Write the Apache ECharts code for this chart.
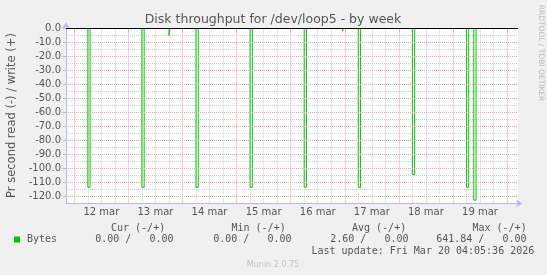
<!DOCTYPE html>
<html><head><meta charset="utf-8">
<script src="https://cdn.jsdelivr.net/npm/echarts@6/dist/echarts.min.js"></script>
<style>html,body{margin:0;padding:0;background:#f0f0f0}#c{width:547px;height:275px}</style>
</head><body><div id="c"></div>
<script>
// ---- data ----
const chartTitle = 'Disk throughput for /dev/loop5 - by week';
const yAxisName = 'Pr second read (-) / write (+)';
const dayLabels = ['12 mar','13 mar','14 mar','15 mar','16 mar','17 mar','18 mar','19 mar'];
const dayStarts = ['2026-03-12','2026-03-13','2026-03-14','2026-03-15','2026-03-16','2026-03-17','2026-03-18','2026-03-19','2026-03-20'];
const rangeStart = '2026-03-11T20:19:00Z';
const rangeEnd = '2026-03-20T04:52:00Z';
const spikeStarts = ['2026-03-12T06:00:00Z','2026-03-13T06:00:00Z','2026-03-13T18:00:00Z','2026-03-14T06:00:00Z','2026-03-15T06:00:00Z','2026-03-16T06:00:00Z','2026-03-16T23:00:00Z','2026-03-17T06:00:00Z','2026-03-18T06:00:00Z','2026-03-19T06:00:00Z','2026-03-19T09:15:00Z'];
const spikeEnds   = ['2026-03-12T07:00:00Z','2026-03-13T07:00:00Z','2026-03-13T18:30:00Z','2026-03-14T07:00:00Z','2026-03-15T07:00:00Z','2026-03-16T07:00:00Z','2026-03-16T23:30:00Z','2026-03-17T07:00:00Z','2026-03-18T07:00:00Z','2026-03-19T07:00:00Z','2026-03-19T10:15:00Z'];
const spikeValues = [-113.4,-113.4,-5.0,-113.4,-113.4,-113.4,-1.6,-113.4,-104.3,-113.4,-122.6];
const zeroRule = 0;
const yMajorTicks = [-120,-110,-100,-90,-80,-70,-60,-50,-40,-30,-20,-10,0];
const yMinorTicks = [-125,-115,-105,-95,-85,-75,-65,-55,-45,-35,-25,-15,-5];
const legendHeaders = ['Cur (-/+)','Min (-/+)','Avg (-/+)','Max (-/+)'];
const legendValues = ['0.00 /   0.00','0.00 /   0.00','2.60 /   0.00','641.84 /   0.00'];
const seriesName = 'Bytes';
const lastUpdate = 'Last update: Fri Mar 20 04:05:36 2026';
const muninVersion = 'Munin 2.0.75';
const sideText = 'RRDTOOL / TOBI OETIKER';

// ---- build ----
const t = s => Date.parse(s.length === 10 ? s + 'T00:00:00Z' : s);
const H = 3600 * 1000;
const X0 = t(rangeStart), X1 = t(rangeEnd);
const midTicks = [], sixTicks = [], noonTicks = [];
for (let i = 0; i < dayStarts.length; i++) {
  const d = t(dayStarts[i]);
  if (d < X1) midTicks.push(d);
  for (let k = 1; k < 4; k++) { if (d + k * 6 * H < X1) sixTicks.push(d + k * 6 * H); }
  if (i < dayLabels.length) noonTicks.push(d + 12 * H);
}
const data = [[X0, 0]];
for (let i = 0; i < spikeStarts.length; i++) {
  data.push([t(spikeStarts[i]), spikeValues[i]]);
  data.push([t(spikeEnds[i]), 0]);
}
data.push([X1, 0]);

const RED = '#eba3a3', GRAY = '#d0d0d0', AXIS = '#b8b8f0', TXT = '#555';
const F = 'DejaVu Sans', M = 'DejaVu Sans Mono';

const graphics = [
  {type:'text', x:273, y:19.5, style:{text:chartTitle, font:'12.5px "'+F+'"', fill:'#555', align:'center', verticalAlign:'middle'}},
  {type:'text', x:12, y:115.5, rotation:Math.PI/2, style:{text:yAxisName, font:'11.5px "'+F+'"', fill:TXT, align:'center', verticalAlign:'middle'}},
  {type:'text', x:541, y:53, rotation:-Math.PI/2, style:{text:sideText, font:'7.5px "'+F+'"', fill:'#bbb', align:'center', verticalAlign:'middle'}},
  {type:'rect', shape:{x:14, y:236.5, width:6, height:6}, style:{fill:'#00cc00'}},
  {type:'text', x:27, y:239.5, style:{text:seriesName, font:'10px "'+M+'"', fill:TXT, verticalAlign:'middle'}},
  {type:'text', x:311.5, y:251.5, style:{text:lastUpdate, font:'10px "'+M+'"', fill:TXT, verticalAlign:'middle'}},
  {type:'text', x:273, y:264.5, style:{text:muninVersion, font:'8px "'+F+'"', fill:'#c4c4c4', align:'center', verticalAlign:'middle'}}
];
const headerX = [111, 231.5, 352, 472.5];
const valueRight = [173.5, 291.5, 408.5, 526.5];
for (let i = 0; i < legendHeaders.length; i++) {
  graphics.push({type:'text', x:headerX[i], y:228, style:{text:legendHeaders[i], font:'10px "'+M+'"', fill:TXT, verticalAlign:'middle'}});
  graphics.push({type:'text', x:valueRight[i], y:239.5, style:{text:legendValues[i], font:'10px "'+M+'"', fill:TXT, align:'right', verticalAlign:'middle'}});
}

const chart = echarts.init(document.getElementById('c'), null, {renderer:'canvas'});
chart.setOption({
  backgroundColor:'#f0f0f0',
  animation:false,
  grid:{left:66, right:29, top:28.5, bottom:71.5, show:true, backgroundColor:'#ffffff', borderWidth:0, containLabel:false},
  xAxis:[{
    type:'value', min:X0, max:X1, z:3,
    axisLine:{show:false},
    axisTick:{show:true, customValues:midTicks, length:4, lineStyle:{color:RED, width:1}},
    axisLabel:{customValues:noonTicks, color:TXT, fontFamily:F, fontSize:10, margin:4,
      formatter:(v)=>{ const i = noonTicks.indexOf(v); return i >= 0 ? dayLabels[i] : ''; }},
    splitLine:{show:true, lineStyle:{color:RED, type:[1,1], width:1}}
  },{
    type:'value', min:X0, max:X1, position:'bottom', z:2,
    axisLine:{show:true, onZero:false, lineStyle:{color:AXIS, width:1}, symbol:['none','arrow'], symbolSize:[6,6], symbolOffset:[0,4]},
    axisTick:{show:false, customValues:sixTicks},
    axisLabel:{show:false},
    splitLine:{show:true, lineStyle:{color:GRAY, type:[1,1], width:1}}
  }],
  yAxis:[{
    type:'value', min:-125, max:0, z:6,
    axisLine:{show:true, onZero:false, lineStyle:{color:AXIS, width:1}, symbol:['none','arrow'], symbolSize:[6,6], symbolOffset:[0,6]},
    axisTick:{show:true, customValues:yMajorTicks, length:3, lineStyle:{color:RED}},
    axisLabel:{customValues:yMajorTicks, color:TXT, fontFamily:F, fontSize:10, margin:5, formatter:(v)=> v.toFixed(1)},
    splitLine:{show:true, lineStyle:{color:RED, type:[1,1], width:1}}
  },{
    type:'value', min:-125, max:0, position:'left', z:2,
    axisLine:{show:false},
    axisTick:{show:false, customValues:yMinorTicks},
    axisLabel:{show:false},
    splitLine:{show:true, lineStyle:{color:GRAY, type:[1,1], width:1}}
  }],
  series:[{
    type:'line', name:seriesName, step:'end', symbol:'none', data:data, xAxisIndex:0, yAxisIndex:0, z:5, clip:false,
    lineStyle:{color:'#00cc00', width:1}, itemStyle:{color:'#00cc00'}
  },{
    type:'line', name:'zero', symbol:'none', data:[[X0, zeroRule],[X1, zeroRule]], xAxisIndex:0, yAxisIndex:0, z:7, clip:false,
    lineStyle:{color:'#000', width:1}, silent:true
  }],
  graphic:graphics
});
</script></body></html>
